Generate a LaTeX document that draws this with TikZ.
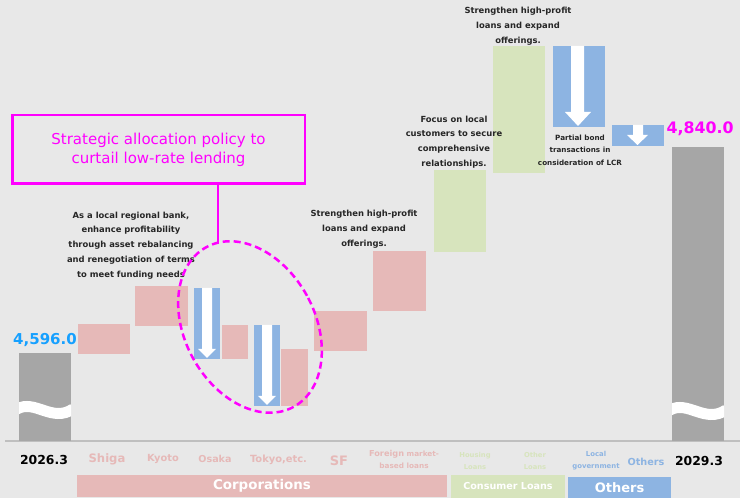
\documentclass[tikz,border=0pt]{standalone}
\usepackage{fontspec}
\setmainfont{DejaVu Sans}
\usetikzlibrary{shapes.geometric}
\definecolor{bgc}{RGB}{232,232,232}
\definecolor{pinkc}{RGB}{230,185,184}
\definecolor{greenc}{RGB}{215,228,189}
\definecolor{bluec}{RGB}{141,180,226}
\definecolor{grayc}{RGB}{166,166,166}
\definecolor{axisc}{RGB}{191,191,191}
\definecolor{numblue}{RGB}{22,160,255}
\definecolor{mag}{RGB}{255,0,255}
\definecolor{txt}{RGB}{38,38,38}
\tikzset{
  note/.style={font=\bfseries\fontsize{8.4}{14.8}\selectfont, text=txt, align=center, inner sep=0pt},
  smallnote/.style={font=\bfseries\fontsize{7.2}{12.5}\selectfont, text=txt, align=center, inner sep=0pt},
  axlab/.style={font=\bfseries\fontsize{#1}{#1}\selectfont, inner sep=0pt},
  twolab/.style={font=\bfseries\fontsize{#1}{12}\selectfont, inner sep=0pt, align=center},
  catlab/.style={font=\bfseries\fontsize{#1}{#1}\selectfont, inner sep=0pt, text=white},
  wave/.style={white, line width=11pt},
  blockarrow/.style={fill=white, draw=none}
}
\begin{document}
\begin{tikzpicture}[x=1pt,y=1pt]
\fill[bgc] (0,0) rectangle (740,498);
\useasboundingbox (0,0) rectangle (740,498);
% axis
\draw[axisc, line width=1.5pt] (5,57) -- (740,57);
% start and end bars
\fill[grayc] (19,57) rectangle (71,145);
\begin{scope}
  \clip (19,57) rectangle (71,145);
  \draw[wave] (17,89) .. controls (35,99) and (52,75) .. (73,89);
\end{scope}
\fill[grayc] (672,57) rectangle (724,351);
\begin{scope}
  \clip (672,57) rectangle (724,351);
  \draw[wave] (670,88) .. controls (688,98) and (705,74) .. (726,88);
\end{scope}
% corporations
\fill[pinkc] (78,144) rectangle (130,174);
\fill[pinkc] (135,172) rectangle (188,212);
\fill[bluec] (194,139) rectangle (220,210);
\fill[blockarrow] (202,210) -- (202,149) -- (198,149) -- (207,140) -- (216,149) -- (212,149) -- (212,210) -- cycle;
\fill[pinkc] (222,139) rectangle (248,173);
\fill[bluec] (254,92) rectangle (280,173);
\fill[blockarrow] (262,173) -- (262,102) -- (258,102) -- (267,93) -- (276,102) -- (272,102) -- (272,173) -- cycle;
\fill[pinkc] (281,92) rectangle (308,149);
\fill[pinkc] (314,147) rectangle (367,187);
\fill[pinkc] (373,187) rectangle (426,247);
% consumer loans
\fill[greenc] (434,246) rectangle (486,328);
\fill[greenc] (493,325) rectangle (545,452);
% others
\fill[bluec] (553,371) rectangle (605,452);
\fill[blockarrow] (571,452) -- (571,386) -- (565,386) -- (578,372) -- (591,386) -- (584,386) -- (584,452) -- cycle;
\fill[bluec] (612,352) rectangle (664,373);
\fill[blockarrow] (633,373) -- (633,363) -- (627,363) -- (637.5,353) -- (648,363) -- (643,363) -- (643,373) -- cycle;
% value labels
\node[axlab=15, text=numblue] (v1) at (45,158) {4,596.0};
\node[axlab=15.8, text=mag] (v2) at (700,369) {4,840.0};
% x axis labels
\node[axlab=12.4] (l0) at (44,38) {2026.3};
\node[axlab=11.6, text=pinkc] (l1) at (107,39) {Shiga};
\node[axlab=9.8, text=pinkc] (l2) at (163,39) {Kyoto};
\node[axlab=9.6, text=pinkc] (l3) at (215,39) {Osaka};
\node[axlab=9.9, text=pinkc] (l4) at (278.5,38) {Tokyo,etc.};
\node[axlab=13, text=pinkc] (l5) at (339,37) {SF};
\node[twolab=7.3, text=pinkc] (l6) at (404,39) {{\fontsize{8.2}{12}\selectfont Foreign} market-\\based loans};
\node[twolab=6.8, text=greenc] (l7) at (475,37) {Housing\\Loans};
\node[twolab=6.8, text=greenc] (l8) at (535,37) {Other\\Loans};
\node[twolab=6.9, text=bluec] (l9) at (596,37) {Local\\government};
\node[axlab=9.7, text=bluec] (l10) at (646,36) {Others};
\node[axlab=12.4] (l11) at (699,37) {2029.3};
% category bars
\fill[pinkc] (77,1) rectangle (447,23);
\node[catlab=13.4] (c1) at (262,12) {Corporations};
\fill[greenc] (451,0) rectangle (565,23);
\node[catlab=9.6] (c2) at (508,12) {Consumer Loans};
\fill[bluec] (568,0) rectangle (671,21);
\node[catlab=13] (c3) at (619.5,10) {Others};
% notes
\node[note] (n1) at (131,252.5) {As a local regional bank,\\enhance profitability\\through asset rebalancing\\and renegotiation of terms\\to meet funding needs};
\node[note] (n2) at (364,268.5) {Strengthen high-profit\\loans and expand\\offerings.};
\node[note] (n3) at (454,356) {Focus on local\\customers to secure\\comprehensive\\relationships.};
\node[note] (n4) at (518,472) {Strengthen high-profit\\loans and expand\\offerings.};
\node[smallnote] (n5) at (580,348) {Partial bond\\transactions in\\consideration of LCR};
% policy box and ellipse
\node[draw=mag, line width=2.5pt, minimum width=292.5pt, minimum height=68.5pt, text=mag, font=\fontsize{15}{19}\selectfont, align=center, inner sep=0pt] (policy) at (158.5,348.5) {Strategic allocation policy to\\curtail low-rate lending};
\node[ellipse, draw=mag, line width=2.5pt, dash pattern=on 7pt off 4pt, minimum width=130pt, minimum height=182pt, inner sep=0pt, rotate=28.7] (circ) at (250,171) {};
\coordinate (cend) at (218,255);
\draw[mag, line width=2.5pt] (policy.south -| cend) -- (cend);
\end{tikzpicture}
\end{document}
